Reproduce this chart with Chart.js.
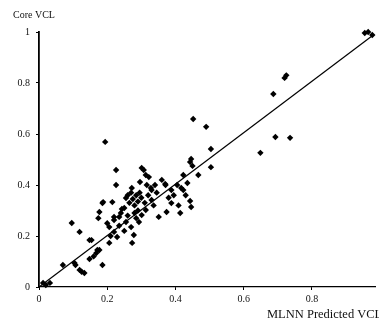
<!DOCTYPE html>
<html>
<head>
<meta charset="utf-8">
<script src="https://cdn.jsdelivr.net/npm/chart.js@4.4.1/dist/chart.umd.min.js"></script>
<style>
html,body{margin:0;padding:0;background:#fff;}
#c{display:block;}
</style>
</head>
<body>
<canvas id="c" width="379" height="324"></canvas>
<script>
// ---- Data ----
const xValues = [0.012,0.032,0.02,0.07,0.107,0.119,0.133,0.125,0.186,0.148,0.168,0.171,0.177,0.148,0.119,0.096,0.177,0.174,0.186,0.215,0.188,0.194,0.226,0.226,0.22,0.206,0.22,0.229,0.273,0.278,0.27,0.255,0.235,0.293,0.301,0.313,0.351,0.374,0.388,0.414,0.423,0.371,0.301,0.307,0.313,0.296,0.316,0.272,0.33,0.255,0.243,0.22,0.33,0.336,0.322,0.328,0.37,0.388,0.38,0.409,0.443,0.446,0.417,0.435,0.423,0.467,0.443,0.45,0.446,0.504,0.504,0.452,0.49,0.649,0.693,0.736,0.687,0.72,0.725,0.955,0.965,0.977,0.265,0.275,0.285,0.26,0.28,0.29,0.295,0.27,0.3,0.25,0.24,0.26,0.28,0.29,0.31,0.32,0.345,0.25,0.235,0.34,0.36,0.395,0.43,0.405,0.2,0.21,0.16,0.285,0.154,0.104,0.206];
const yValues = [0.016,0.016,0.008,0.086,0.086,0.067,0.055,0.06,0.086,0.11,0.133,0.145,0.145,0.184,0.216,0.251,0.294,0.27,0.329,0.333,0.333,0.569,0.459,0.4,0.263,0.235,0.216,0.196,0.173,0.204,0.235,0.255,0.275,0.255,0.282,0.302,0.275,0.294,0.329,0.29,0.38,0.4,0.467,0.459,0.439,0.412,0.4,0.388,0.38,0.349,0.306,0.275,0.341,0.32,0.431,0.388,0.404,0.38,0.35,0.32,0.337,0.314,0.388,0.408,0.439,0.439,0.49,0.475,0.502,0.47,0.541,0.659,0.628,0.526,0.588,0.585,0.757,0.82,0.83,0.996,1.0,0.988,0.33,0.345,0.36,0.36,0.32,0.335,0.37,0.37,0.35,0.31,0.29,0.28,0.29,0.30,0.33,0.36,0.37,0.22,0.24,0.40,0.42,0.36,0.36,0.40,0.25,0.2,0.12,0.27,0.184,0.094,0.173];
const fitX = [0, 0.982];
const fitY = [0, 0.99];
const xTicks = [0, 0.2, 0.4, 0.6, 0.8];
const yTicks = [0, 0.2, 0.4, 0.6, 0.8, 1];
const yTitle = 'Core VCL';
const xTitle = 'MLNN Predicted VCL';

const points = xValues.map((x, i) => ({x: x, y: yValues[i]}));
const fitPts = fitX.map((x, i) => ({x: x, y: fitY[i]}));
const fmt = v => String(+Number(v).toFixed(1));
const FONT = '"Liberation Serif", "DejaVu Serif", serif';

const titlePlugin = {
  id: 'titles',
  afterDraw(chart) {
    const ctx = chart.ctx;
    ctx.save();
    ctx.fillStyle = '#111';
    ctx.textBaseline = 'middle';
    ctx.textAlign = 'left';
    ctx.font = '10px ' + FONT;
    ctx.fillText(yTitle, 13, 15);
    ctx.font = '12.5px ' + FONT;
    ctx.fillText(xTitle, 267, 315);
    ctx.restore();
  }
};

new Chart(document.getElementById('c'), {
  data: {
    datasets: [
      {
        type: 'scatter',
        data: points,
        pointStyle: 'rectRot',
        pointRadius: 3.2,
        backgroundColor: '#000',
        borderColor: '#000',
        borderWidth: 0,
        clip: false
      },
      {
        type: 'line',
        data: fitPts,
        borderColor: '#000',
        borderWidth: 1.2,
        pointRadius: 0,
        fill: false,
        tension: 0,
        clip: false
      }
    ]
  },
  options: {
    responsive: false,
    animation: false,
    devicePixelRatio: 1,
    layout: {padding: {top: 32, right: 0, left: 0, bottom: 0}},
    plugins: {legend: {display: false}, tooltip: {enabled: false}},
    scales: {
      x: {
        type: 'linear',
        min: 0,
        max: 0.985,
        afterBuildTicks: s => { s.ticks = xTicks.map(v => ({value: v})); },
        afterFit: s => { s.height = 37; },
        grid: {display: true, drawOnChartArea: false, drawTicks: true, tickLength: 3, color: '#000'},
        border: {display: true, color: '#000', width: 1.2},
        ticks: {color: '#111', font: {family: FONT, size: 10}, padding: 3, callback: fmt, maxRotation: 0}
      },
      y: {
        type: 'linear',
        min: 0,
        max: 1,
        afterBuildTicks: s => { s.ticks = yTicks.map(v => ({value: v})); },
        afterFit: s => { s.width = 39; },
        grid: {display: true, drawOnChartArea: false, drawTicks: true, tickLength: 3, color: '#000'},
        border: {display: true, color: '#000', width: 1.8},
        ticks: {color: '#111', font: {family: FONT, size: 10}, padding: 6, callback: fmt}
      }
    }
  },
  plugins: [titlePlugin]
});
</script>
</body>
</html>
